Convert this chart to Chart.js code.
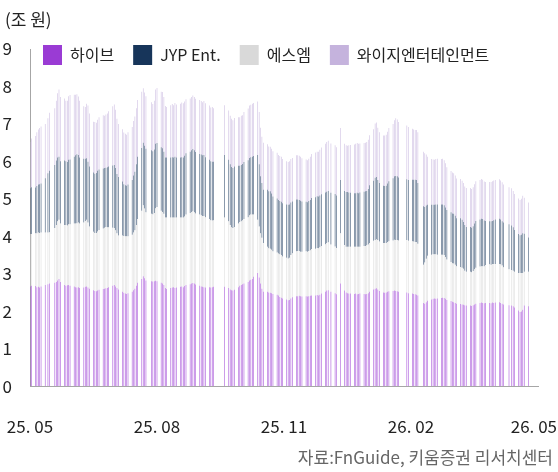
<!DOCTYPE html>
<html><head><meta charset="utf-8">
<script src="https://cdn.jsdelivr.net/npm/chart.js@4.4.1/dist/chart.umd.min.js"></script>
<style>html,body{margin:0;padding:0;background:#fff;}#wrap{width:558px;height:472px;}</style>
</head><body>
<div id="wrap"><canvas id="c" width="558" height="472"></canvas></div>
<script>
// Trading days (KRX), 2025-05-22 .. 2026-05-18
const dates = [
"2025-05-22","2025-05-23","2025-05-26","2025-05-27","2025-05-28","2025-05-29","2025-05-30",
"2025-06-02","2025-06-04","2025-06-05","2025-06-09","2025-06-10","2025-06-11","2025-06-12","2025-06-13","2025-06-16","2025-06-17","2025-06-18","2025-06-19","2025-06-20","2025-06-23","2025-06-24","2025-06-25","2025-06-26","2025-06-27","2025-06-30",
"2025-07-01","2025-07-02","2025-07-03","2025-07-04","2025-07-07","2025-07-08","2025-07-09","2025-07-10","2025-07-11","2025-07-14","2025-07-15","2025-07-16","2025-07-17","2025-07-18","2025-07-21","2025-07-22","2025-07-23","2025-07-24","2025-07-25","2025-07-28","2025-07-29","2025-07-30","2025-07-31",
"2025-08-01","2025-08-04","2025-08-05","2025-08-06","2025-08-07","2025-08-08","2025-08-11","2025-08-12","2025-08-13","2025-08-14","2025-08-18","2025-08-19","2025-08-20","2025-08-21","2025-08-22","2025-08-25","2025-08-26","2025-08-27","2025-08-28","2025-08-29",
"2025-09-01","2025-09-02","2025-09-03","2025-09-04","2025-09-05","2025-09-08","2025-09-09","2025-09-10","2025-09-11","2025-09-12","2025-09-15","2025-09-16","2025-09-17","2025-09-18","2025-09-19","2025-09-22","2025-09-23","2025-09-24","2025-09-25","2025-09-26","2025-09-29","2025-09-30",
"2025-10-01","2025-10-02","2025-10-10","2025-10-13","2025-10-14","2025-10-15","2025-10-16","2025-10-17","2025-10-20","2025-10-21","2025-10-22","2025-10-23","2025-10-24","2025-10-27","2025-10-28","2025-10-29","2025-10-30","2025-10-31",
"2025-11-03","2025-11-04","2025-11-05","2025-11-06","2025-11-07","2025-11-10","2025-11-11","2025-11-12","2025-11-13","2025-11-14","2025-11-17","2025-11-18","2025-11-19","2025-11-20","2025-11-21","2025-11-24","2025-11-25","2025-11-26","2025-11-27","2025-11-28",
"2025-12-01","2025-12-02","2025-12-03","2025-12-04","2025-12-05","2025-12-08","2025-12-09","2025-12-10","2025-12-11","2025-12-12","2025-12-15","2025-12-16","2025-12-17","2025-12-18","2025-12-19","2025-12-22","2025-12-23","2025-12-24","2025-12-26","2025-12-29","2025-12-30",
"2026-01-02","2026-01-05","2026-01-06","2026-01-07","2026-01-08","2026-01-09","2026-01-12","2026-01-13","2026-01-14","2026-01-15","2026-01-16","2026-01-19","2026-01-20","2026-01-21","2026-01-22","2026-01-23","2026-01-26","2026-01-27","2026-01-28","2026-01-29","2026-01-30",
"2026-02-02","2026-02-03","2026-02-04","2026-02-05","2026-02-06","2026-02-09","2026-02-10","2026-02-11","2026-02-12","2026-02-13","2026-02-19","2026-02-20","2026-02-23","2026-02-24","2026-02-25","2026-02-26","2026-02-27",
"2026-03-03","2026-03-04","2026-03-05","2026-03-06","2026-03-09","2026-03-10","2026-03-11","2026-03-12","2026-03-13","2026-03-16","2026-03-17","2026-03-18","2026-03-19","2026-03-20","2026-03-23","2026-03-24","2026-03-25","2026-03-26","2026-03-27","2026-03-30","2026-03-31",
"2026-04-01","2026-04-02","2026-04-03","2026-04-06","2026-04-07","2026-04-08","2026-04-09","2026-04-10","2026-04-13","2026-04-14","2026-04-15","2026-04-16","2026-04-17","2026-04-20","2026-04-21","2026-04-22","2026-04-23","2026-04-24","2026-04-27","2026-04-28","2026-04-29","2026-04-30",
"2026-05-04","2026-05-06","2026-05-07","2026-05-08","2026-05-11","2026-05-12","2026-05-13","2026-05-14","2026-05-15","2026-05-18"
];

// 시가총액 (조 원)
const hybe = [
2.66,2.68,2.67,2.64,2.65,2.63,2.66,
2.70,2.72,2.74,2.76,2.78,2.82,2.86,2.78,2.70,2.68,2.69,2.70,2.68,2.66,2.64,2.63,2.64,2.62,2.63,
2.65,2.66,2.63,2.60,2.56,2.54,2.53,2.55,2.57,2.59,2.60,2.61,2.62,2.64,2.68,2.70,2.66,2.62,2.58,2.52,2.49,2.47,2.46,
2.48,2.52,2.56,2.60,2.68,2.76,2.86,2.93,2.88,2.82,2.80,2.79,2.80,2.81,2.80,2.76,2.74,2.70,2.62,2.59,
2.62,2.63,2.64,2.62,2.63,2.65,2.66,2.64,2.67,2.70,2.72,2.74,2.75,2.74,2.71,2.68,2.66,2.65,2.64,2.63,2.64,2.63,
2.64,2.65,2.65,2.62,2.58,2.56,2.55,2.57,2.64,2.68,2.70,2.72,2.74,2.78,2.82,2.84,2.86,2.92,
3.02,2.90,2.74,2.60,2.52,2.52,2.50,2.49,2.48,2.46,2.44,2.42,2.38,2.36,2.34,2.31,2.29,2.30,2.34,2.37,
2.40,2.40,2.41,2.40,2.39,2.40,2.39,2.40,2.41,2.42,2.42,2.43,2.42,2.44,2.47,2.52,2.55,2.56,2.52,2.48,2.45,
2.74,2.55,2.50,2.48,2.47,2.47,2.46,2.47,2.45,2.46,2.47,2.46,2.45,2.46,2.48,2.52,2.58,2.60,2.61,2.58,2.54,
2.50,2.49,2.50,2.52,2.53,2.54,2.55,2.54,2.53,2.52,2.50,2.48,2.47,2.46,2.45,2.44,2.42,
2.22,2.20,2.24,2.28,2.31,2.33,2.34,2.33,2.34,2.35,2.36,2.35,2.33,2.30,2.27,2.25,2.24,2.22,2.20,2.19,2.18,
2.17,2.16,2.15,2.15,2.14,2.16,2.18,2.20,2.22,2.23,2.22,2.21,2.22,2.22,2.21,2.23,2.22,2.23,2.24,2.22,2.20,2.18,
2.16,2.15,2.13,2.10,2.02,1.98,1.99,2.04,2.15,2.13
];
const sm = [
1.40,1.38,1.41,1.44,1.45,1.46,1.44,
1.40,1.38,1.37,1.46,1.52,1.58,1.58,1.56,1.60,1.62,1.60,1.62,1.64,1.68,1.70,1.72,1.73,1.72,1.74,
1.76,1.78,1.74,1.66,1.56,1.55,1.56,1.58,1.60,1.62,1.63,1.64,1.62,1.60,1.55,1.52,1.50,1.46,1.44,1.50,1.52,1.53,1.54,
1.52,1.52,1.54,1.56,1.62,1.70,1.82,1.90,1.86,1.82,1.80,1.80,1.82,1.94,1.98,1.92,1.91,1.90,1.88,1.91,
1.88,1.87,1.86,1.88,1.87,1.85,1.84,1.86,1.86,1.88,1.90,1.91,1.92,1.90,1.90,1.90,1.90,1.89,1.90,1.88,1.82,1.80,
1.78,1.78,1.85,1.78,1.72,1.68,1.67,1.68,1.70,1.70,1.70,1.71,1.72,1.73,1.74,1.74,1.72,1.66,
1.42,1.36,1.34,1.36,1.30,1.20,1.18,1.18,1.16,1.14,1.13,1.12,1.14,1.14,1.12,1.12,1.12,1.13,1.16,1.18,
1.20,1.21,1.20,1.19,1.20,1.20,1.20,1.21,1.22,1.24,1.25,1.26,1.26,1.27,1.27,1.27,1.27,1.28,1.26,1.25,1.24,
1.34,1.22,1.22,1.24,1.25,1.25,1.26,1.25,1.27,1.26,1.25,1.28,1.29,1.30,1.30,1.30,1.30,1.30,1.31,1.32,1.32,
1.32,1.33,1.32,1.33,1.34,1.35,1.36,1.36,1.37,1.37,1.40,1.40,1.40,1.40,1.40,1.41,1.38,
1.02,1.10,1.16,1.20,1.20,1.19,1.18,1.19,1.17,1.16,1.15,1.15,1.12,1.08,1.04,1.03,1.03,1.02,1.00,0.99,0.98,
0.96,0.92,0.90,0.90,0.90,0.91,0.94,0.96,0.97,0.97,0.98,0.99,1.01,1.03,1.03,1.03,1.04,1.03,1.02,1.03,1.02,0.99,
0.96,0.95,0.95,0.95,1.00,1.04,1.03,0.98,0.90,0.92
];
const jyp = [
1.22,1.25,1.22,1.26,1.28,1.30,1.31,
1.45,1.58,1.64,1.68,1.72,1.70,1.68,1.66,1.72,1.70,1.69,1.72,1.73,1.78,1.82,1.84,1.80,1.76,1.70,
1.66,1.64,1.62,1.60,1.58,1.58,1.60,1.62,1.61,1.60,1.59,1.58,1.60,1.62,1.66,1.68,1.66,1.58,1.56,1.44,1.38,1.36,1.35,
1.38,1.46,1.52,1.56,1.62,1.66,1.68,1.67,1.68,1.70,1.70,1.68,1.70,1.72,1.71,1.70,1.70,1.66,1.60,1.60,
1.60,1.61,1.60,1.62,1.60,1.60,1.61,1.60,1.62,1.64,1.64,1.65,1.66,1.66,1.64,1.62,1.62,1.62,1.63,1.60,1.58,1.57,
1.57,1.56,1.67,1.64,1.62,1.61,1.60,1.61,1.54,1.50,1.50,1.50,1.52,1.52,1.53,1.53,1.54,1.56,
1.73,1.66,1.52,1.46,1.42,1.52,1.52,1.53,1.50,1.46,1.44,1.43,1.42,1.42,1.42,1.42,1.43,1.42,1.40,1.38,
1.38,1.37,1.36,1.36,1.34,1.32,1.32,1.33,1.34,1.36,1.37,1.38,1.38,1.38,1.38,1.38,1.37,1.37,1.38,1.40,1.40,
1.42,1.44,1.46,1.46,1.45,1.44,1.43,1.43,1.44,1.43,1.45,1.45,1.46,1.45,1.48,1.54,1.60,1.66,1.66,1.60,1.56,
1.53,1.52,1.53,1.56,1.60,1.66,1.69,1.71,1.70,1.68,1.62,1.62,1.64,1.65,1.66,1.65,1.62,
1.56,1.48,1.42,1.36,1.33,1.32,1.32,1.33,1.34,1.34,1.34,1.33,1.32,1.32,1.33,1.33,1.33,1.31,1.28,1.30,1.28,
1.25,1.22,1.20,1.20,1.19,1.20,1.22,1.25,1.26,1.27,1.26,1.22,1.18,1.15,1.16,1.15,1.17,1.19,1.21,1.20,1.18,1.20,
1.20,1.19,1.16,1.12,1.04,1.01,1.02,1.06,1.02,0.92
];
const yg = [
1.24,1.30,1.38,1.44,1.47,1.50,1.52,
1.45,1.47,1.55,1.52,1.60,1.72,1.80,1.72,1.66,1.62,1.64,1.70,1.72,1.66,1.62,1.60,1.56,1.52,1.40,
1.38,1.46,1.50,1.42,1.36,1.38,1.34,1.36,1.40,1.42,1.40,1.42,1.44,1.48,1.58,1.62,1.56,1.48,1.42,1.40,1.38,1.38,1.36,
1.40,1.42,1.46,1.48,1.50,1.52,1.50,1.45,1.42,1.40,1.28,1.26,1.30,1.45,1.47,1.48,1.50,1.46,1.38,1.35,
1.40,1.42,1.40,1.44,1.42,1.44,1.46,1.45,1.45,1.44,1.42,1.42,1.43,1.42,1.42,1.44,1.43,1.42,1.44,1.44,1.45,1.44,
1.46,1.43,1.33,1.32,1.30,1.29,1.28,1.30,1.30,1.30,1.32,1.30,1.34,1.38,1.40,1.40,1.42,1.42,
1.43,1.40,1.30,1.24,1.26,1.22,1.20,1.19,1.20,1.21,1.22,1.20,1.20,1.20,1.18,1.15,1.14,1.15,1.16,1.16,
1.18,1.18,1.18,1.17,1.15,1.13,1.12,1.13,1.15,1.18,1.20,1.19,1.20,1.22,1.25,1.30,1.33,1.34,1.32,1.30,1.29,
1.39,1.26,1.25,1.24,1.26,1.28,1.30,1.32,1.33,1.32,1.31,1.30,1.30,1.31,1.32,1.34,1.38,1.45,1.46,1.40,1.36,
1.34,1.35,1.36,1.38,1.42,1.45,1.50,1.54,1.52,1.48,1.44,1.42,1.36,1.34,1.33,1.34,1.36,
1.46,1.44,1.36,1.28,1.22,1.21,1.20,1.21,1.22,1.21,1.22,1.20,1.18,1.14,1.10,1.09,1.08,1.07,1.06,1.05,1.04,
1.04,1.03,1.04,1.04,1.03,1.04,1.05,1.06,1.05,1.06,1.05,1.04,1.04,1.05,1.05,1.06,1.06,1.05,1.05,1.04,1.04,1.01,
0.99,0.99,0.97,0.96,0.95,0.94,0.96,1.00,0.96,0.93
];

const legendOrder = ["하이브","JYP Ent.","에스엠","와이지엔터테인먼트"];
const xTickDates = ["2025-05-22","2025-08-22","2025-11-22","2026-02-22","2026-05-22"];
const xTickLabels = ["25. 05","25. 08","25. 11","26. 02","26. 05"];
const yTicks = [0,1,2,3,4,5,6,7,8,9];

const BASE = Date.UTC(2025,4,22);
function dayOf(s){const p=s.split('-').map(Number);return Math.round((Date.UTC(p[0],p[1]-1,p[2])-BASE)/86400000);}
const xs = dates.map(dayOf);
const xTickDays = xTickDates.map(dayOf);
const pts = arr => arr.map((v,i)=>({x:xs[i],y:v}));

const FONT = "'Noto Sans CJK KR','Noto Sans',sans-serif";
Chart.defaults.font.family = FONT;
Chart.defaults.color = '#222';

const placeBlocks = {
  id:'placeBlocks',
  afterInit(chart){
    const lg = chart.legend;
    const f = lg.fit.bind(lg);
    lg.fit = function(){ f(); this.height = 0; };
  },
  afterLayout(chart){
    const lg = chart.legend;
    lg.left = 24; lg.top = 26; lg.height = 44; lg.bottom = 70;
    const t = chart.titleBlock;
    if (t) { t.left = 5; }
  }
};

const barCommon = {barThickness:0.5, inflateAmount:0, borderWidth:0};

new Chart(document.getElementById('c'), {
  type:'bar',
  data:{
    datasets:[
      Object.assign({label:"하이브", data:pts(hybe), backgroundColor:'#9a3bd4'}, barCommon),
      Object.assign({label:"에스엠", data:pts(sm), backgroundColor:'#d9d9d9'}, barCommon),
      Object.assign({label:"JYP Ent.", data:pts(jyp), backgroundColor:'#17355a'}, barCommon),
      Object.assign({label:"와이지엔터테인먼트", data:pts(yg), backgroundColor:'#c5b3dd'}, barCommon)
    ]
  },
  plugins:[placeBlocks],
  options:{
    responsive:false,
    animation:false,
    devicePixelRatio:1,
    layout:{padding:{left:0,right:5,top:0,bottom:0}},
    plugins:{
      tooltip:{enabled:false},
      title:{display:true, text:"(조 원)", align:'start', color:'#222',
        font:{size:17, weight:'normal'}, padding:{top:9,bottom:19.6}},
      subtitle:{display:true, text:"자료:FnGuide, 키움증권 리서치센터", position:'bottom', align:'end', color:'#666',
        font:{size:17, weight:'normal'}, padding:{top:13,bottom:4}},
      legend:{display:true, position:'top', align:'start',
        labels:{boxWidth:19, boxHeight:20, padding:19, color:'#222', font:{size:16},
          sort:(a,b)=>legendOrder.indexOf(a.text)-legendOrder.indexOf(b.text)}}
    },
    scales:{
      x:{type:'linear', stacked:true, min:0, max:368, offset:false,
        grid:{display:false, drawTicks:false},
        border:{display:true, color:'#a6a6a6', width:1},
        afterBuildTicks:(s)=>{ s.ticks = xTickDays.map(v=>({value:v})); },
        afterFit:(s)=>{ s.paddingLeft = 0; s.paddingRight = 0; s.height = 48.5; },
        ticks:{autoSkip:false, maxRotation:0, padding:30, color:'#222', font:{size:17},
          callback:(v)=>{const i=xTickDays.indexOf(v);return i>=0?xTickLabels[i]:'';}}
      },
      y:{stacked:true, min:0, max:9,
        grid:{display:false, drawTicks:false},
        border:{display:true, color:'#a6a6a6', width:1},
        afterBuildTicks:(s)=>{ s.ticks = yTicks.map(v=>({value:v})); },
        afterFit:(s)=>{ s.width = 30; },
        ticks:{padding:18, color:'#222', font:{size:17}}
      },
      yR:{position:'right', display:true,
        grid:{display:false, drawTicks:false}, border:{display:false},
        ticks:{display:false}, afterFit:(s)=>{ s.width = 15; }}
    }
  }
});
</script>
</body></html>
